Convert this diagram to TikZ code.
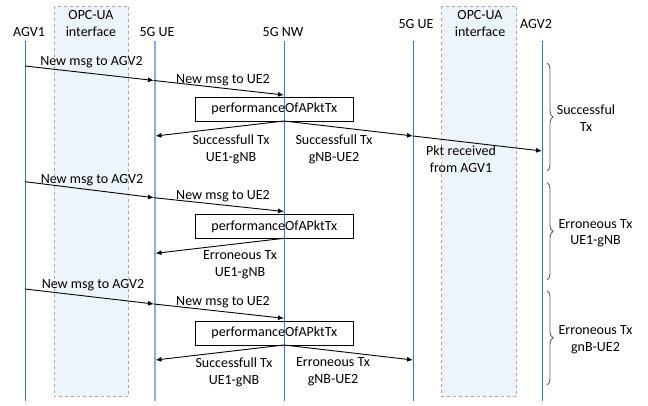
\documentclass[tikz,border=0pt]{standalone}
\usepackage{fontspec}
\setmainfont{Carlito}
\usetikzlibrary{arrows.meta,decorations.pathreplacing}
\definecolor{lifeblue}{HTML}{2A7DD0}
\definecolor{uelight}{HTML}{7DB4E6}
\definecolor{ifacefill}{HTML}{EEF5FA}
\definecolor{ifacedash}{HTML}{A8A8A8}
\definecolor{bracegray}{HTML}{606060}
\begin{document}
\begin{tikzpicture}[x=1pt,y=-1pt,
  txt/.style={font=\fontsize{14}{16.8}\selectfont, inner sep=0pt, align=center},
  msg/.style={-{Latex[length=6pt,width=5pt]}, line width=0.9pt, black},
  life/.style={draw=lifeblue, line width=1pt},
  lifeue/.style={draw=uelight, line width=2.2pt},
  iface/.style={draw=ifacedash, fill=ifacefill, dashed, line width=0.8pt},
  pbox/.style={draw, line width=0.8pt, minimum width=158pt, minimum height=24pt, inner sep=0pt, font=\fontsize{14}{16.8}\selectfont},
  brc/.style={draw=bracegray, line width=0.9pt, decorate, decoration={brace, amplitude=6pt}}]
\useasboundingbox (0,0) rectangle (648,405);
% interface boxes
\draw[iface] (54,6) rectangle (128.7,396.7);
\draw[iface] (441.7,6) rectangle (516.7,396.7);
% headers
\node[txt] (hagv1) at (29,31.7) {AGV1};
\node[txt] (hif1) at (91,23.5) {OPC-UA\\interface};
\node[txt] (hue1) at (157,31.7) {5G UE};
\node[txt] (hnw) at (283,31.7) {5G NW};
\node[txt] (hue2) at (416,24) {5G UE};
\node[txt] (hif2) at (480,23.5) {OPC-UA\\interface};
\node[txt] (hagv2) at (536,24) {AGV2};
% lifelines
\coordinate (agv1t) at (25,41); \coordinate (agv1b) at (25,401);
\coordinate (ue1t) at (154.7,41); \coordinate (ue1b) at (154.7,401);
\coordinate (nwt) at (284.3,41); \coordinate (nwb) at (284.3,401);
\coordinate (ue2t) at (413.3,41); \coordinate (ue2b) at (413.3,401);
\coordinate (agv2t) at (542.3,41); \coordinate (agv2b) at (542.3,401);
\draw[life] (agv1t) -- (agv1b);
\draw[lifeue] (ue1t) -- (ue1b);
\draw[life] (nwt) -- (nwb);
\draw[life] (ue2t) -- (ue2b);
\draw[life] (agv2t) -- (agv2b);
% ---------- round 1
\coordinate (a1) at (25,66); \coordinate (u1) at (154,80.5); \coordinate (n1) at (284,95);
\coordinate (n1b) at (284,121); \coordinate (u1b) at (155.5,136); \coordinate (r1b) at (413,136); \coordinate (g1b) at (542,151);
\draw[msg] (a1) -- (u1);
\draw[msg] (u1) -- (n1);
\node[pbox] (box1) at (274.3,109) {performanceOfAPktTx};
\draw[msg] (n1b) -- (u1b);
\draw[msg] (n1b) -- (r1b);
\draw[msg] (r1b) -- (g1b);
\node[txt] (l1a) at (91.5,62.5) {New msg to AGV2};
\node[txt] (l1b) at (223,80) {New msg to UE2};
\node[txt] (l1c) at (231,149.3) {Successfull Tx\\UE1-gNB};
\node[txt] (l1d) at (334,149.3) {Successfull Tx\\gNB-UE2};
\node[txt] (l1e) at (461,159.5) {Pkt received\\from AGV1};
\coordinate (b1t) at (547,63); \coordinate (b1b) at (547,171);
\draw[brc] (b1t) -- (b1b);
\node[txt] (l1f) at (586,118) {Successful\\Tx};
% ---------- round 2
\coordinate (a2) at (25,181.7); \coordinate (u2) at (154,197.7); \coordinate (n2) at (284,211.5);
\coordinate (n2b) at (284,238.3); \coordinate (u2b) at (155.5,253.3);
\draw[msg] (a2) -- (u2);
\draw[msg] (u2) -- (n2);
\node[pbox] (box2) at (274.3,226.3) {performanceOfAPktTx};
\draw[msg] (n2b) -- (u2b);
\node[txt] (l2a) at (92,180) {New msg to AGV2};
\node[txt] (l2b) at (223,196) {New msg to UE2};
\node[txt] (l2c) at (240,265) {Erroneous Tx\\UE1-gNB};
\coordinate (b2t) at (547,182.7); \coordinate (b2b) at (547,280);
\draw[brc] (b2t) -- (b2b);
\node[txt] (l2f) at (595.5,233.3) {Erroneous Tx\\UE1-gNB};
% ---------- round 3
\coordinate (a3) at (25,289); \coordinate (u3) at (154,304); \coordinate (n3) at (284,318.3);
\coordinate (n3b) at (284,345); \coordinate (u3b) at (155.5,360); \coordinate (r3b) at (413,360);
\draw[msg] (a3) -- (u3);
\draw[msg] (u3) -- (n3);
\node[pbox] (box3) at (274.3,333) {performanceOfAPktTx};
\draw[msg] (n3b) -- (u3b);
\draw[msg] (n3b) -- (r3b);
\node[txt] (l3a) at (93,285) {New msg to AGV2};
\node[txt] (l3b) at (223,302.3) {New msg to UE2};
\node[txt] (l3c) at (234,372) {Successfull Tx\\UE1-gNB};
\node[txt] (l3d) at (333,372) {Erroneous Tx\\gNB-UE2};
\coordinate (b3t) at (547,290.7); \coordinate (b3b) at (547,385);
\draw[brc] (b3t) -- (b3b);
\node[txt] (l3f) at (595.5,340) {Erroneous Tx\\gnB-UE2};
\end{tikzpicture}
\end{document}
